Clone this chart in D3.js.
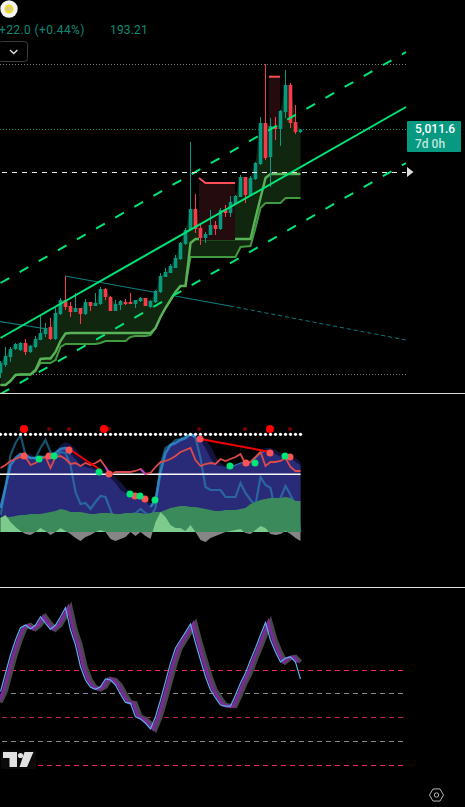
<!DOCTYPE html>
<html>
<head>
<meta charset="utf-8">
<script src="https://cdn.jsdelivr.net/npm/d3@7"></script>
<style>
  html, body { margin: 0; padding: 0; background: #000; overflow: hidden; }
  svg { display: block; font-family: Roboto, "Noto Sans", sans-serif; }
</style>
</head>
<body>
<script>
// Price candles, one entry per bar
const opens = [2576,2656,2736,2816,2806,2876,2786,2836,2906,2966,3036,2916,3166,3306,3246,3186,3226,3166,3286,3246,3266,3416,3336,3196,3256,3286,3286,3266,3296,3326,3236,3286,3386,3536,3576,3626,3716,3866,4006,4216,4026,3926,3956,4056,4016,4216,4176,4266,4336,4536,4356,4516,4666,5076,4736,5046,5016,5186,5456,5086,4986];
const highs = [2696,2836,2836,2876,2886,2916,2856,2946,3146,3076,3126,3226,3326,3546,3286,3376,3226,3316,3286,3376,3436,3426,3346,3306,3306,3316,3376,3306,3336,3326,3306,3406,3576,3626,3666,3756,3886,4026,4886,4366,4066,3986,4206,4096,4226,4256,4346,4356,4556,4536,4546,4686,5136,5666,5126,5136,5206,5606,5476,5256,5012];
const lows = [2526,2636,2686,2806,2796,2756,2776,2826,2906,2936,2906,2906,3156,3206,3136,3186,3066,3156,3196,3246,3256,3306,3196,3196,3206,3256,3266,3226,3286,3246,3226,3276,3376,3536,3576,3626,3706,3856,4006,3976,3856,3876,3956,3956,4006,4136,4136,4256,4336,4276,4346,4506,4656,4706,4436,4906,4846,5126,5026,4966,4976];
const closes = [2676,2746,2816,2866,2876,2786,2846,2916,2976,3026,2916,3176,3306,3236,3186,3226,3166,3286,3246,3276,3416,3336,3196,3266,3296,3266,3266,3306,3326,3246,3296,3396,3546,3586,3646,3726,3876,4006,4216,4016,3926,3966,4056,4016,4206,4176,4286,4346,4536,4356,4526,4676,5076,4726,5046,5016,5196,5456,5076,4986,5011.6];

// Stepped support levels under the candles
const supportUpper = [2456,2456,2496,2556,2561,2561,2561,2606,2716,2721,2721,2786,2896,2971,2976,2976,2976,2976,2976,2976,2976,2976,2976,2976,2976,2976,2976,2976,2976,2976,2976,3026,3136,3226,3306,3386,3446,3446,3876,3916,3916,3916,3916,3916,3916,3916,3916,3916,3916,3916,3916,4126,4326,4526,4566,4566,4566,4566,4566,4566,4566];
const supportLower = [2456,2456,2496,2556,2561,2561,2561,2596,2676,2676,2676,2706,2836,2866,2866,2866,2866,2866,2866,2866,2876,2896,2896,2896,2896,2896,2936,2946,2946,2946,2956,3026,3136,3226,3306,3386,3446,3446,3736,3736,3736,3736,3736,3736,3736,3736,3736,3736,3836,3841,3846,4026,4226,4276,4276,4276,4276,4326,4326,4326,4326];

// Regression channel and descending trendline, as [bar, price]
const channelBars = [0, 81.1];
const channelMid = [2926, 5236];
const channelUp = [3476, 5786];
const channelDown = [2366, 4676];
const trendSolid = [[12.9,3546],[45.9,3246]];
const trendDashed = [[45.9,3246],[81.1,2906]];
const trendLeft = [[-0.1,3089],[11.9,2996]];

// Reference prices
const priceTop = 5666, priceLast = 5011.6, priceMark = 4586, priceBottom = 2566;

// Supply boxes: first bar, last bar, top, bottom, bevel start price
const supplyBoxes = [
  [39.7, 46.9, 4476, 3906, 4526],
  [53.7, 55.9, 5539, 5046, null]
];

// Oscillator pane series
const waveMain = [24,45,67,74,78,76,74,74,75,75,76,79,83,84,78,73,67,65,64,62,60,57,54,49,42,39,37,35,34,31,25,32,60,79,87,89,92,94,98,95,92,84,74,67,66,65,65,67,69,70,70,74,79,81,80,78,75,74,74,70,67];
const waveLag = [10,22,45,62,72,78,78,75,75,76,77,81,87,90,88,83,77,71,66,64,62,60,58,55,50,44,40,38,36,33,29,28,38,60,76,86,90,95,99,99,97,92,86,76,69,66,65,66,68,70,71,73,78,84,84,82,79,76,74,74,70];
const flowLine = [17,44,77,89,97,77,74,74,84,92,80,75,80,79,67,40,28,29,23,30,36,35,22,9,9,14,17,19,23,19,15,24,67,84,87,92,93,95,98,94,74,45,42,42,42,35,35,35,49,39,32,27,55,47,44,20,34,46,37,27,0];
const moneyBand = [15,15,15,16,17,17,18,18,18,19,20,21,23,22,20,20,20,19,18,18,19,19,19,18,18,19,19,19,19,18,19,20,20,22,24,25,26,26,25,25,24,23,22,21,21,22,22,22,23,24,28,30,32,33,34,34,34,35,34,31,31];
const momentum = [14,17,10,5,1,-2,-3,0,4,1,-3,0,4,1,-2,-6,-9,-5,-3,0,2,0,-7,-9,-7,-5,0,-4,0,-4,-7,10,20,15,7,4,4,1,7,0,-8,-10,-6,-4,-2,0,1,2,3,-1,-2,2,6,4,-2,-3,-2,1,-2,-6,-9];
const strength = [64,67,71,73,75,75,67,69,73,75,64,75,76,73,68,69,66,69,67,69,72,65,57,60,60,60,60,61,63,58,59,65,70,71,73,76,80,82,84,72,66,68,69,68,73,71,73,75,78,68,70,75,80,66,70,70,71,74,65,61,61];
const outlineRuns = [[0,14],[30,39],[46,53]];
const fadeSegments = [[21,22],[28,29]];
const divergences = [[[14,82],[20,62]],[[40,93],[54,80]]];
const redDots = [[4.7,76],[9.7,76],[13.7,82],[21.7,58],[26.9,36],[28.9,33],[39.9,93],[49.1,69],[53.9,79],[57.9,75]];
const greenDots = [[7.7,73],[10.7,76],[19.7,60],[25.9,38],[27.9,36],[30.9,32],[45.9,66],[50.9,69],[56.9,76]];
const alertsBig = [4.7, 20.7, 53.9];
const alertsSmall = [9.7, 13.7, 21.7, 39.7, 48.9, 57.9];
const alertLevel = 103, dotLevel = 97.7, zeroGuide = 57.7;

// Stochastic pane series and its guide levels
const stochPrior = 53;
const stochK = [62,77.5,92.9,105.5,115.9,118.1,114.8,118.1,125.1,119.6,114.5,118.1,125.1,132.7,113.9,101.3,83,71.8,65.7,64,66.2,72.7,71.8,67.6,59.8,53,52.2,40.9,39,35.4,30.6,40.9,55,70.4,86.1,98.8,105.5,112.2,119,103,88.7,74.6,63.4,56.7,50.8,49.9,49.9,59.2,69.3,77.7,88.7,98.8,109.7,120.1,105.5,95.4,87,90.3,91.2,87,72.7];
const stochLevels = [80, 60.6, 40, 20, 0];
const stochLevelColors = ["#f2245f", "#85858f", "#b0265c", "#85858f", "#f2245f"];

const width = 465, height = 807;
const svg = d3.select("body").append("svg").attr("width", width).attr("height", height);
const defs = svg.append("defs");

svg.append("rect").attr("width", width).attr("height", height).attr("fill", "#000");

// Shared scales
const x = d3.scaleLinear().domain([0, 60]).range([0.5, 300.5]);
const y = d3.scaleLinear().domain([6306, 2306]).range([0, 400]);
const yOsc = d3.scaleLinear().domain([0, 100]).range([532, 432]);
const yStoch = d3.scaleLinear().domain([0, 80]).range([765.3, 670.3]);

defs.append("clipPath").attr("id", "main-pane").append("rect").attr("width", width).attr("height", 393);
defs.append("clipPath").attr("id", "above-zero").append("rect").attr("width", width).attr("height", yOsc(0));
defs.append("clipPath").attr("id", "below-zero").append("rect").attr("y", yOsc(0)).attr("width", width).attr("height", 100);

const bars = d3.range(opens.length);

// ---- Price pane ----
const main = svg.append("g").attr("clip-path", "url(#main-pane)");
const xRight = 406;

const level = (price, color, dash) => main.append("line")
  .attr("x1", 0).attr("x2", xRight)
  .attr("y1", Math.floor(y(price)) + 0.5).attr("y2", Math.floor(y(price)) + 0.5)
  .attr("stroke", color).attr("stroke-dasharray", dash);

level(priceTop, "#7a7a7a", "1 2");
level(priceBottom, "#7a7a7a", "1 2");
level(priceLast, "#0f8f78", "1 2");

const pointLine = d3.line().x(d => x(d[0])).y(d => y(d[1]));

main.append("path").attr("d", pointLine(trendSolid)).attr("fill", "none").attr("stroke", "#0c7c7e").attr("stroke-width", 1.2);
main.append("path").attr("d", pointLine(trendLeft)).attr("fill", "none").attr("stroke", "#0c7c7e").attr("stroke-width", 1.2);
main.append("path").attr("d", pointLine(trendDashed)).attr("fill", "none").attr("stroke", "#0c7c7e").attr("stroke-width", 1).attr("stroke-dasharray", "4 3");

// Shaded band between the candles and the lower support level
main.append("path")
  .attr("d", d3.area().x(i => x(i)).y0(i => y(supportLower[i])).y1(i => y(Math.max(opens[i], closes[i])))(bars))
  .attr("fill", "#11260f");

// Support levels
const stepLine = arr => d3.line().x((d, i) => x(i)).y(d => y(d))(arr);
main.append("path").attr("d", stepLine(supportLower)).attr("fill", "none").attr("stroke", "#429a3e").attr("stroke-width", 2);
main.append("path").attr("d", stepLine(supportUpper)).attr("fill", "none").attr("stroke", "#58b257").attr("stroke-width", 2.4);

// Supply boxes with their capped top edge
supplyBoxes.forEach(([a, b, top, bottom, bevel]) => {
  main.append("rect")
    .attr("x", x(a)).attr("y", y(top))
    .attr("width", x(b) - x(a)).attr("height", y(bottom) - y(top))
    .attr("fill", "#240b0d");
  const edge = bevel === null ? [[a, top], [b, top]] : [[a, bevel], [a + 1.3, top], [b, top]];
  main.append("path").attr("d", pointLine(edge)).attr("fill", "none").attr("stroke", "#ff4d58").attr("stroke-width", 2);
});

// Candles
const upColor = "#089981", downColor = "#f83a4a";
const candle = main.append("g").selectAll("g").data(bars).join("g")
  .attr("fill", i => closes[i] >= opens[i] ? upColor : downColor)
  .attr("stroke", i => closes[i] >= opens[i] ? upColor : downColor);
candle.append("line")
  .attr("x1", i => x(i)).attr("x2", i => x(i))
  .attr("y1", i => y(highs[i])).attr("y2", i => y(lows[i]));
candle.append("rect")
  .attr("stroke", "none")
  .attr("x", i => x(i) - 1.8).attr("width", 3.6)
  .attr("y", i => y(Math.max(opens[i], closes[i])))
  .attr("height", i => Math.max(1, Math.abs(y(opens[i]) - y(closes[i]))));

// Regression channel
const channelColor = "#00e676";
[[channelUp, true], [channelDown, true], [channelMid, false]].forEach(([series, dashed]) => {
  main.append("line")
    .attr("x1", x(channelBars[0])).attr("x2", x(channelBars[1]))
    .attr("y1", y(series[0])).attr("y2", y(series[1]))
    .attr("stroke", channelColor).attr("stroke-width", 2)
    .attr("stroke-dasharray", dashed ? "10 12" : null);
});

// Marked price line and its arrow
main.append("line")
  .attr("x1", 2).attr("x2", xRight)
  .attr("y1", Math.floor(y(priceMark)) + 0.5).attr("y2", Math.floor(y(priceMark)) + 0.5)
  .attr("stroke", "#e8e8e8").attr("stroke-dasharray", "5 5");
main.append("path")
  .attr("d", d3.line()([[407, y(priceMark) - 5], [413.5, y(priceMark)], [407, y(priceMark) + 5]]))
  .attr("fill", "#dcdcdc");

// Last price tag
const tag = svg.append("g");
tag.append("rect").attr("x", 407).attr("y", 121).attr("width", 54).attr("height", 31).attr("rx", 1).attr("fill", "#089981");
tag.append("text").attr("x", 415).attr("y", 133).attr("font-size", 12).attr("font-weight", 500).attr("fill", "#ffffff").text(d3.format(",.1f")(priceLast));
tag.append("text").attr("x", 415).attr("y", 147.5).attr("font-size", 12).attr("font-weight", 500).attr("fill", "#bfe6df").text("7d 0h");

// Header: symbol badge, change readout and collapse button
const head = svg.append("g");
head.append("circle").attr("cx", 9).attr("cy", 9).attr("r", 8.7).attr("fill", "#f4f4f4");
head.append("circle").attr("cx", 9).attr("cy", 9).attr("r", 3.3).attr("fill", "#c9c9b0").attr("stroke", "#ecd92e").attr("stroke-width", 2.4);
head.append("text").attr("x", -1).attr("y", 34).attr("font-size", 12).attr("letter-spacing", 0.38).attr("fill", "#0b8a74").text("+22.0 (+0.44%)");
head.append("text").attr("x", 110).attr("y", 34).attr("font-size", 12).attr("letter-spacing", 0.15).attr("fill", "#0b8a74").text("193.21");
head.append("rect").attr("x", -1.5).attr("y", 41.5).attr("width", 29).attr("height", 20).attr("rx", 3).attr("fill", "none").attr("stroke", "#3c3c3c");
head.append("path").attr("d", "M10,50 L13.7,53.5 L17.4,50").attr("fill", "none").attr("stroke", "#e4e4e4").attr("stroke-width", 1.3);

// Pane separators
[393.5, 587.5].forEach(py => svg.append("line")
  .attr("x1", 0).attr("x2", width).attr("y1", py).attr("y2", py).attr("stroke", "#dcdcdc"));

// ---- Oscillator pane ----
const osc = svg.append("g");
const oscArea = d3.area().x((d, i) => x(i)).y0(yOsc(0)).y1(d => yOsc(d));
const oscLine = d3.line().x((d, i) => x(i)).y(d => yOsc(d));
const oscPoints = d3.line().x(d => x(d[0])).y(d => yOsc(d[1]));

osc.append("path").attr("d", oscArea(waveLag)).attr("fill", "#13133e");
osc.append("path").attr("d", oscArea(waveMain)).attr("fill", "#2a2b78");

outlineRuns.forEach(([a, b]) => {
  const run = d3.range(a, b + 1).map(i => [i, waveMain[i]]);
  osc.append("path").attr("d", oscPoints(run)).attr("fill", "none").attr("stroke", "#2f78bf").attr("stroke-width", a === 46 ? 1.2 : 2.6);
});

osc.append("path").attr("d", oscLine(flowLine)).attr("fill", "none").attr("stroke", "#2a93c4").attr("stroke-opacity", 0.55).attr("stroke-width", 2.2);

osc.append("path").attr("d", oscArea(moneyBand)).attr("fill", "#3b8a5c");
osc.append("path").attr("d", oscArea(momentum)).attr("fill", "#7ccb8c").attr("clip-path", "url(#above-zero)");
osc.append("path").attr("d", oscArea(momentum)).attr("fill", "#858585").attr("clip-path", "url(#below-zero)");

osc.append("line")
  .attr("x1", 0).attr("x2", x(60))
  .attr("y1", yOsc(zeroGuide)).attr("y2", yOsc(zeroGuide))
  .attr("stroke", "#fff").attr("stroke-width", 1.6);

osc.append("path").attr("d", oscLine(strength)).attr("fill", "none").attr("stroke", "#dd4a4a").attr("stroke-width", 1.8);
fadeSegments.forEach(([a, b]) => osc.append("path")
  .attr("d", oscPoints([[a, strength[a]], [b, strength[b]]]))
  .attr("fill", "none").attr("stroke", "#b23fd6").attr("stroke-width", 1.8));

divergences.forEach(seg => osc.append("path")
  .attr("d", oscPoints(seg)).attr("fill", "none").attr("stroke", "#f50000").attr("stroke-width", 2));

osc.append("g").selectAll("circle").data(bars).join("circle")
  .attr("cx", i => x(i)).attr("cy", yOsc(dotLevel)).attr("r", 1.6).attr("fill", "#fff");

osc.append("g").selectAll("circle").data(alertsSmall).join("circle")
  .attr("cx", d => x(d)).attr("cy", yOsc(alertLevel)).attr("r", 2).attr("fill", "#7a0000");
osc.append("g").selectAll("circle").data(alertsBig).join("circle")
  .attr("cx", d => x(d)).attr("cy", yOsc(alertLevel)).attr("r", 4).attr("fill", "#ff0000");

osc.append("g").selectAll("circle").data(redDots).join("circle")
  .attr("cx", d => x(d[0])).attr("cy", d => yOsc(d[1])).attr("r", 3.5).attr("fill", "#ff5252");
osc.append("g").selectAll("circle").data(greenDots).join("circle")
  .attr("cx", d => x(d[0])).attr("cy", d => yOsc(d[1])).attr("r", 3.5).attr("fill", "#00e676");

// ---- Stochastic pane ----
const stoch = svg.append("g");
stochLevels.forEach((lv, i) => stoch.append("line")
  .attr("x1", 2).attr("x2", xRight)
  .attr("y1", Math.floor(yStoch(lv)) + 0.5).attr("y2", Math.floor(yStoch(lv)) + 0.5)
  .attr("stroke", stochLevelColors[i]).attr("stroke-dasharray", "5 4"));

// The signal and smoothing traces follow the fast line with a bar offset
const laggedLine = lag => d3.line().x((d, i) => x(i - 1 + lag)).y(d => yStoch(d));
const lagged = [stochPrior].concat(stochK.slice(0, 60));
stoch.append("path").attr("d", laggedLine(1)(lagged)).attr("fill", "none").attr("stroke", "#48484c").attr("stroke-width", 4.5);
stoch.append("path").attr("d", laggedLine(0.55)(lagged)).attr("fill", "none").attr("stroke", "#7a2a96").attr("stroke-width", 3.2);
stoch.append("path").attr("d", d3.line().x((d, i) => x(i)).y(d => yStoch(d))(stochK)).attr("fill", "none").attr("stroke", "#5cb0ea").attr("stroke-width", 1.2);

// Platform mark
const mark = svg.append("g");
mark.append("rect").attr("x", 1).attr("y", 750).attr("width", 35).attr("height", 19).attr("rx", 2).attr("fill", "#0a0a0a");
mark.append("path").attr("d", "M3,752 H17 V767 H9.5 V758 H3 Z").attr("fill", "#e2e2e2");
mark.append("circle").attr("cx", 20.5).attr("cy", 755.5).attr("r", 2.6).attr("fill", "#e2e2e2");
mark.append("path").attr("d", "M24.5,752 H33.5 L27,767 H19.5 Z").attr("fill", "#e2e2e2");

// Settings glyph
const hexR = 7;
const hex = d3.range(6).map(k => [436.5 + hexR * Math.cos(k * Math.PI / 3), 795 + hexR * Math.sin(k * Math.PI / 3)]);
svg.append("path").attr("d", d3.line()(hex) + "Z").attr("fill", "none").attr("stroke", "#b5b5b5");
svg.append("circle").attr("cx", 436.5).attr("cy", 795).attr("r", 2.2).attr("fill", "none").attr("stroke", "#b5b5b5");
</script>
</body>
</html>
